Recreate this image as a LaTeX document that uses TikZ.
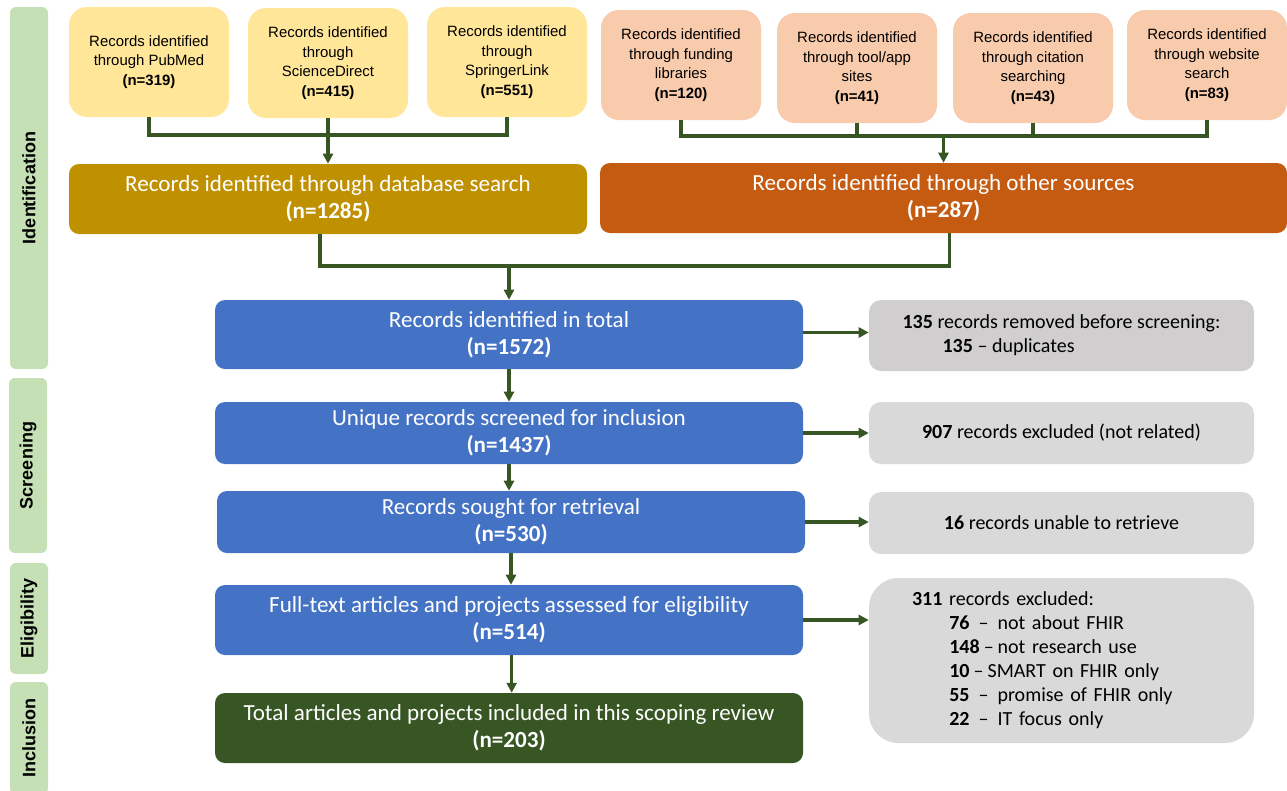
\documentclass[tikz,border=0pt]{standalone}
\usepackage{fontspec}
\setmainfont{Carlito}
\newfontfamily\arialf{Liberation Sans}
\usetikzlibrary{arrows.meta,calc}
\definecolor{phgreen}{HTML}{C5E0B4}
\definecolor{yel}{HTML}{FFE699}
\definecolor{ora}{HTML}{F8CBAD}
\definecolor{gold}{HTML}{BF9000}
\definecolor{rust}{HTML}{C55A11}
\definecolor{blu}{HTML}{4472C4}
\definecolor{dgreen}{HTML}{375623}
\definecolor{grayA}{HTML}{D0CECE}
\definecolor{grayB}{HTML}{D9D9D9}
\tikzset{
  phase/.style={fill=phgreen, rounded corners=4.5pt, inner sep=0pt, rotate=90,
    minimum height=28.5pt, font=\arialf\bfseries\fontsize{13.5}{16}\selectfont},
  smallbox/.style={rounded corners=13.5pt, inner sep=0pt, minimum width=120pt,
    minimum height=82.5pt, align=center, font=\arialf\fontsize{11.2}{14.6}\selectfont},
  ybox/.style={smallbox, fill=yel},
  obox/.style={smallbox, fill=ora},
  mainbox/.style={rounded corners=7.5pt, inner sep=0pt, align=center, text=white,
    font=\fontsize{17.3}{20.25}\selectfont},
  flowbox/.style={mainbox, fill=blu, minimum width=441pt},
  greybox/.style={rounded corners=9pt, inner sep=0pt, fill=grayB, minimum width=288.75pt,
    minimum height=46.5pt, align=left, font=\fontsize{15}{18}\selectfont},
  conn/.style={draw=dgreen, line width=2.6pt},
  arr/.style={conn, -{Triangle[length=7.5pt,width=7.5pt]}}
}
\begin{document}
\begin{tikzpicture}[x=0.75pt,y=-0.75pt]
\useasboundingbox (0,0) rectangle (1287,790);
\begin{scope}
\clip (0,0) rectangle (1287,790);
% phase bars
\node[phase, minimum width=271.5pt] (phI) at (29,188) {Identification};
\node[phase, minimum width=131.25pt] (phS) at (28,465.5) {Screening};
\node[phase, minimum width=83.25pt] (phE) at (29,618.5) {Eligibility};
\node[phase, minimum width=84pt] (phN) at (29,738) {Inclusion};
\end{scope}
% database sources
\node[ybox] (pub) at (149,62) {Records identified\\through PubMed\\\textbf{(n=319)}};
\node[ybox] (sd) at (328,63) {Records identified\\through\\ScienceDirect\\\textbf{(n=415)}};
\node[ybox] (sl) at (507,62) {Records identified\\through\\SpringerLink\\\textbf{(n=551)}};
% other sources
\node[obox] (fund) at (681,65) {Records identified\\through funding\\libraries\\\textbf{(n=120)}};
\node[obox] (tool) at (857,68) {Records identified\\through tool/app\\sites\\\textbf{(n=41)}};
\node[obox] (cit) at (1033,68) {Records identified\\through citation\\searching\\\textbf{(n=43)}};
\node[obox] (web) at (1207,65) {Records identified\\through website\\search\\\textbf{(n=83)}};
% aggregate boxes
\node[mainbox, fill=gold, minimum width=388.5pt, minimum height=52.5pt] (db) at (328,199)
  {Records identified through database search\\\textbf{(n=1285)}};
\node[mainbox, fill=rust, minimum width=515.25pt, minimum height=52.5pt] (other) at (943.5,198)
  {Records identified through other sources\\\textbf{(n=287)}};
% flow
\node[flowbox, minimum height=51.75pt] (total) at (509,334.5) {Records identified in total\\\textbf{(n=1572)}};
\node[flowbox, minimum height=46.5pt] (unique) at (509,433) {Unique records screened for inclusion\\\textbf{(n=1437)}};
\node[flowbox, minimum height=46.5pt] (sought) at (511,522) {Records sought for retrieval\\\textbf{(n=530)}};
\node[flowbox, minimum height=52.5pt] (full) at (509,620) {Full-text articles and projects assessed for eligibility\\\textbf{(n=514)}};
\node[mainbox, fill=dgreen, minimum width=441pt, minimum height=52.5pt] (final) at (509,728)
  {Total articles and projects included in this scoping review\\\textbf{(n=203)}};
% exclusion boxes
\node[greybox, fill=grayA, minimum height=53.25pt] (rem) at (1061.5,335.5)
  {\textbf{135} records removed before screening:\\\hspace*{30pt}\textbf{135} – duplicates};
\node[greybox] (exc) at (1061.5,433) {\textbf{907} records excluded (not related)};
\node[greybox] (una) at (1061.5,523) {\textbf{16} records unable to retrieve};
\node[greybox, rounded corners=22pt, minimum height=123.75pt, text width=224.25pt] (ex) at (1061.5,660.5)
  {\textbf{311} records excluded:\\
   \hspace*{28pt}\textbf{76}\hspace{0.45em}–\hspace{0.45em}not about FHIR\\
   \hspace*{28pt}\textbf{148}\hspace{0.2em}–\hspace{0.2em}not research use\\
   \hspace*{28pt}\textbf{10}\hspace{0.2em}–\hspace{0.2em}SMART on FHIR only\\
   \hspace*{28pt}\textbf{55}\hspace{0.45em}–\hspace{0.45em}promise of FHIR only\\
   \hspace*{28pt}\textbf{22}\hspace{0.45em}–\hspace{0.45em}IT focus only};
% connectors: database sources
\coordinate (jl) at (328,135);
\draw[conn] (pub.south) -- (pub.south |- jl) -- (sl.south |- jl) -- (sl.south);
\draw[arr] (sd.south) -- (db.north);
% connectors: other sources
\coordinate (jr) at (943.5,136);
\draw[conn] (fund.south) -- (fund.south |- jr) -- (web.south |- jr) -- (web.south);
\draw[conn] (tool.south) -- (tool.south |- jr);
\draw[conn] (cit.south) -- (cit.south |- jr);
\draw[arr] (jr) -- (other.north);
% merge
\coordinate (jm) at (509,266);
\draw[conn] ([xshift=-6pt]db.south) |- (jm) -| ([xshift=4.5pt]other.south);
\draw[arr] (jm) -- (total.north);
% vertical flow
\draw[arr] (total.south) -- (unique.north);
\draw[arr] (unique.south) -- (unique.south |- sought.north);
\draw[arr] (sought.south) -- (sought.south |- full.north);
\draw[arr] ([xshift=2pt]full.south) -- ([xshift=2pt]final.north);
% side arrows
\draw[arr] ([yshift=1.5pt]total.east) -- ([yshift=1.5pt]total.east -| rem.west);
\draw[arr] (unique.east) -- (unique.east -| exc.west);
\draw[arr] (sought.east) -- (sought.east -| una.west);
\draw[arr] (full.east) -- (full.east -| ex.west);
\end{tikzpicture}
\end{document}
